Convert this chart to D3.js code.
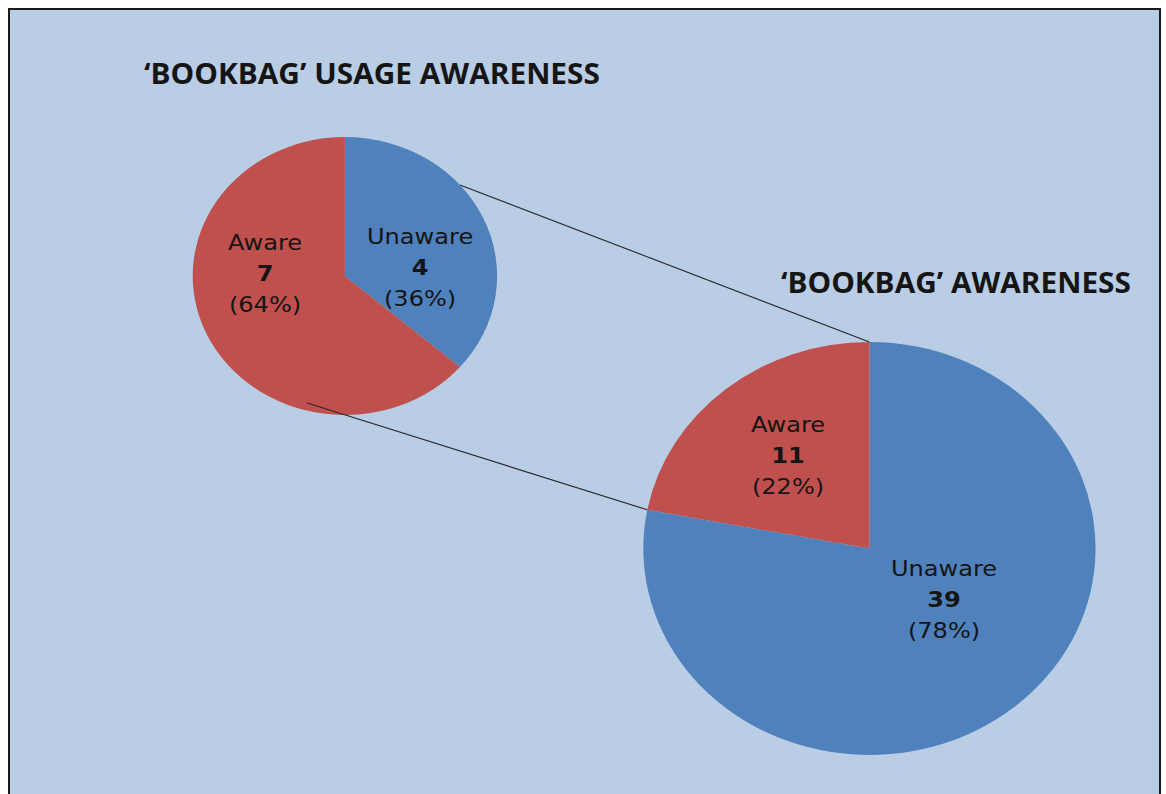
<!DOCTYPE html>
<html>
<head>
<meta charset="utf-8">
<script src="https://cdn.jsdelivr.net/npm/d3@7"></script>
<style>
  html, body { margin: 0; padding: 0; background: #ffffff; }
  svg { display: block; }
</style>
</head>
<body>
<svg id="chart" width="1166" height="794"></svg>
<script>
// ---- data ----
const categories = ["Unaware", "Aware"];
const usageCounts = [4, 7];          // 'BOOKBAG' usage awareness
const awarenessCounts = [39, 11];    // 'BOOKBAG' awareness
const titles = ["‘BOOKBAG’ USAGE AWARENESS", "‘BOOKBAG’ AWARENESS"];

// ---- layout / style ----
const W = 1166, H = 794;
const SX = 1.095;                       // horizontal stretch of the drawing
const sliceColor = d3.scaleOrdinal().domain(categories).range(["#4F81BD", "#C0504D"]);
const bg = "#B9CDE5";
const ink = "#151515";

const svg = d3.select("#chart");

// frame
svg.append("rect")
  .attr("x", 9).attr("y", 9)
  .attr("width", 1151).attr("height", H + 20)
  .attr("fill", bg)
  .attr("stroke", "#1a1a1a")
  .attr("stroke-width", 2);

const g = svg.append("g").attr("transform", `scale(${SX},1)`);

const pieGen = d3.pie().sort(null).value(d => d.count);
const pct = d3.format(".0%");

function build(counts) {
  const total = d3.sum(counts);
  return categories.map((c, i) => ({ cat: c, count: counts[i], share: counts[i] / total }));
}

const pies = [
  { key: "usage", data: build(usageCounts), cx: 315, cy: 276, r: 139,
    labelPos: { Unaware: [0.494, -0.065], Aware: [-0.525, -0.018] } },
  { key: "aware", data: build(awarenessCounts), cx: 794, cy: 548.5, r: 206.5,
    labelPos: { Unaware: [0.33, 0.245], Aware: [-0.36, -0.455] } }
];

pies.forEach(p => {
  p.arcs = pieGen(p.data);
  const arc = d3.arc().innerRadius(0).outerRadius(p.r);
  const pg = g.append("g").attr("transform", `translate(${p.cx},${p.cy})`);
  pg.selectAll("path").data(p.arcs).join("path")
    .attr("d", arc)
    .attr("fill", d => sliceColor(d.data.cat));
});

// point on a pie at angle a (clockwise from 12 o'clock), at fraction f of radius
function at(p, a, f = 1) {
  return [p.cx + p.r * f * Math.sin(a), p.cy - p.r * f * Math.cos(a)];
}

// connector lines from the usage pie to the 'Aware' slice of the awareness pie
const small = pies[0], big = pies[1];
const awareSlice = big.arcs.find(d => d.data.cat === "Aware");
const deg = Math.PI / 180;
const connectors = [
  [at(small, 49.1 * deg, 1.0), at(big, awareSlice.endAngle)],
  [at(small, 195.2 * deg, 0.947), at(big, awareSlice.startAngle)]
];
g.selectAll("line.conn").data(connectors).join("line")
  .attr("class", "conn")
  .attr("x1", d => d[0][0]).attr("y1", d => d[0][1])
  .attr("x2", d => d[1][0]).attr("y2", d => d[1][1])
  .attr("stroke", "#2a2a2a")
  .attr("stroke-width", 1.1);

// data labels: name / count / (share)
const lineGap = 31;
pies.forEach(p => {
  p.arcs.forEach(a => {
    const [fx, fy] = p.labelPos[a.data.cat];
    const x = p.cx + fx * p.r;
    const y = p.cy + fy * p.r + 8;
    const t = g.append("text")
      .attr("text-anchor", "middle")
      .attr("font-family", "DejaVu Sans, Verdana, sans-serif")
      .attr("font-size", 22)
      .attr("fill", ink);
    t.append("tspan").attr("x", x).attr("y", y - lineGap).text(a.data.cat);
    t.append("tspan").attr("x", x).attr("y", y).attr("font-weight", "bold").text(a.data.count);
    t.append("tspan").attr("x", x).attr("y", y + lineGap).text(`(${pct(a.data.share)})`);
  });
});

// titles
const titleSpec = [
  { text: titles[0], x: 131.5, y: 84, len: 416.4 },
  { text: titles[1], x: 713.2, y: 293, len: 319.6 }
];
g.selectAll("text.title").data(titleSpec).join("text")
  .attr("class", "title")
  .attr("x", d => d.x).attr("y", d => d.y)
  .attr("textLength", d => d.len)
  .attr("lengthAdjust", "spacingAndGlyphs")
  .attr("font-family", "Open Sans, sans-serif")
  .attr("font-weight", 700)
  .attr("font-size", 28)
  .attr("fill", ink)
  .text(d => d.text);
</script>
</body>
</html>
